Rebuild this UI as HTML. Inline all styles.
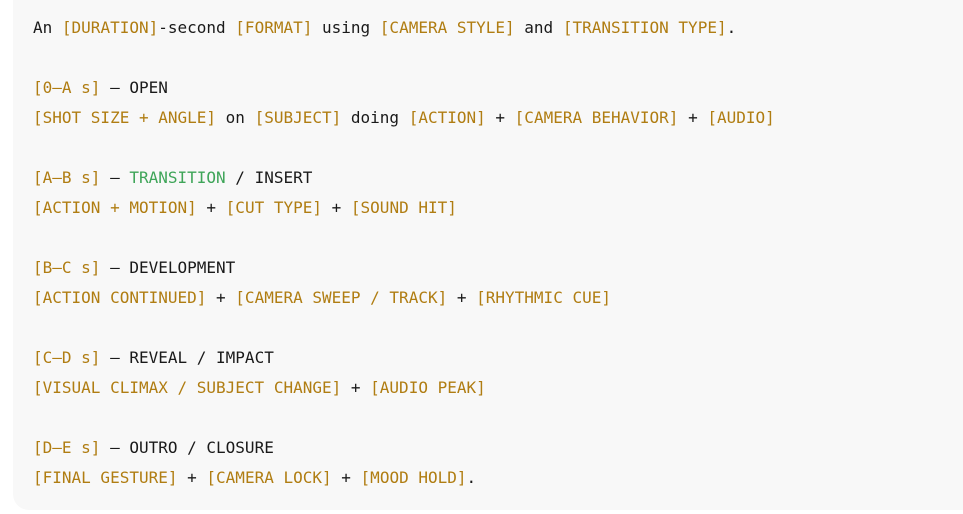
<!DOCTYPE html>
<html><head><meta charset="utf-8"><style>
html,body{margin:0;padding:0;background:#fff;width:963px;height:514px;overflow:hidden;position:relative}
.box{position:absolute;left:13px;top:0;width:980px;height:510px;background:#f8f8f8;border-radius:0 0 0 16px}
.txt{position:absolute;left:33px;top:13px;margin:0;white-space:pre;font-family:"DejaVu Sans Mono","Liberation Mono",monospace;font-size:16px;line-height:30px;color:#1a1a1a}
.y{color:#b07d12}.g{color:#3fa559}
</style></head><body><div class="box"></div>
<div class="txt">An <span class="y">[DURATION]</span>-second <span class="y">[FORMAT]</span> using <span class="y">[CAMERA STYLE]</span> and <span class="y">[TRANSITION TYPE]</span>.

<span class="y">[0–A s]</span> — OPEN
<span class="y">[SHOT SIZE + ANGLE]</span> on <span class="y">[SUBJECT]</span> doing <span class="y">[ACTION]</span> + <span class="y">[CAMERA BEHAVIOR]</span> + <span class="y">[AUDIO]</span>

<span class="y">[A–B s]</span> — <span class="g">TRANSITION</span> / INSERT
<span class="y">[ACTION + MOTION]</span> + <span class="y">[CUT TYPE]</span> + <span class="y">[SOUND HIT]</span>

<span class="y">[B–C s]</span> — DEVELOPMENT
<span class="y">[ACTION CONTINUED]</span> + <span class="y">[CAMERA SWEEP / TRACK]</span> + <span class="y">[RHYTHMIC CUE]</span>

<span class="y">[C–D s]</span> — REVEAL / IMPACT
<span class="y">[VISUAL CLIMAX / SUBJECT CHANGE]</span> + <span class="y">[AUDIO PEAK]</span>

<span class="y">[D–E s]</span> — OUTRO / CLOSURE
<span class="y">[FINAL GESTURE]</span> + <span class="y">[CAMERA LOCK]</span> + <span class="y">[MOOD HOLD]</span>.</div>
</body></html>
